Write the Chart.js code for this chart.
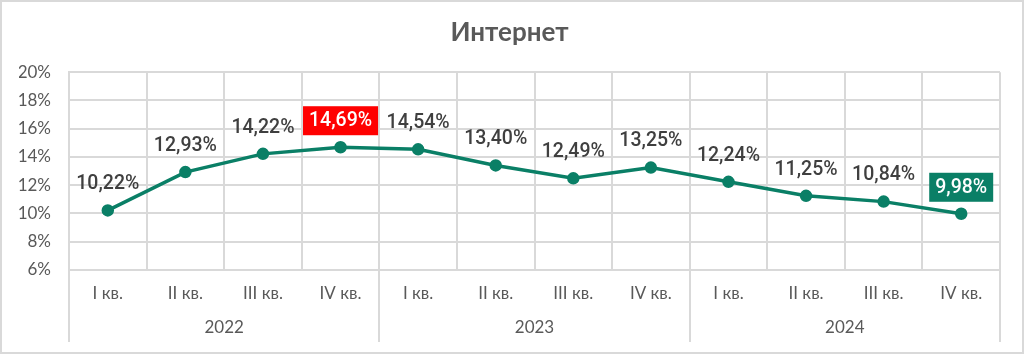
<!DOCTYPE html>
<html lang="ru">
<head>
    <meta charset="UTF-8">
    <title>Интернет</title>
    <script src="https://cdn.jsdelivr.net/npm/chart.js@4.4.1/dist/chart.umd.min.js"></script>
<style>
    html, body { margin:0; padding:0; background:#fff; }
    #board{
        width:1020px;
        height:350px;
        border:2px solid #d9d9d9;
    }
    canvas { display:block; }
</style>
</head>
<body>
    <div id="board">
        <canvas id="chart1" width="1020" height="350"></canvas>
    </div>
<script>
    // данные
    const quarters = ['I кв.','II кв.','III кв.','IV кв.','I кв.','II кв.','III кв.','IV кв.','I кв.','II кв.','III кв.','IV кв.'];
    const years = ['2022','2023','2024'];
    const values = [10.22, 12.93, 14.22, 14.69, 14.54, 13.40, 12.49, 13.25, 12.24, 11.25, 10.84, 9.98];
    const yTicks = [6, 8, 10, 12, 14, 16, 18, 20];

    const green = '#0a7f66';
    const gridColor = '#d9d9d9';
    const highlight = { 3: '#ff0000', 11: green }; // подсветка подписей

    const fmt = v => v.toFixed(2).replace('.', ',') + '%';

    // подписи значений над точками
    const valueLabels = {
        id: 'valueLabels',
        afterDatasetsDraw(chart) {
            const ctx = chart.ctx;
            const meta = chart.getDatasetMeta(0);
            ctx.save();
            ctx.font = '500 19.5px Roboto';
            ctx.textAlign = 'center';
            ctx.textBaseline = 'middle';
            meta.data.forEach((pt, i) => {
                const text = fmt(values[i]);
                const x = pt.x, y = pt.y - 27;
                if (highlight[i]) {
                    const w = ctx.measureText(text).width + 12;
                    ctx.fillStyle = highlight[i];
                    ctx.fillRect(x - w / 2, y - 14, w, 29);
                    ctx.fillStyle = '#ffffff';
                } else {
                    ctx.fillStyle = '#3f3f3f';
                }
                ctx.fillText(text, x, y + 1);
            });
            ctx.restore();
        }
    };

    // разделители годов под осью
    const yearLines = {
        id: 'yearLines',
        afterDraw(chart) {
            const ctx = chart.ctx;
            const xs = chart.scales.x;
            const x2 = chart.scales.x2;
            const step = xs.width / quarters.length;
            ctx.save();
            ctx.strokeStyle = gridColor;
            ctx.lineWidth = 2;
            for (let i = 0; i <= quarters.length; i += 4) {
                const px = Math.round(xs.left + step * i);
                ctx.beginPath();
                ctx.moveTo(px, chart.chartArea.bottom);
                ctx.lineTo(px, x2.bottom + 4);
                ctx.stroke();
            }
            ctx.restore();
        }
    };

    const ctx = document.getElementById('chart1').getContext('2d');
    new Chart(ctx, {
        type: 'line',
        data: {
            labels: quarters,
            datasets: [{
                data: values,
                borderColor: green,
                backgroundColor: green,
                borderWidth: 3.5,
                pointRadius: 4.5,
                pointHoverRadius: 4.5,
                tension: 0
            }]
        },
        options: {
            responsive: false,
            devicePixelRatio: 1,
            animation: false,
            layout: { padding: { left: 17, right: 22, top: 0, bottom: 14 } },
            plugins: {
                legend: { display: false },
                tooltip: { enabled: false },
                title: {
                    display: true,
                    text: 'Интернет',
                    color: '#595959',
                    font: { family: 'Lato', size: 26, weight: 'bold' },
                    padding: { top: 15, bottom: 24 }
                }
            },
            scales: {
                y: {
                    min: 6,
                    max: 20,
                    afterBuildTicks: s => { s.ticks = yTicks.map(v => ({ value: v })); },
                    afterFit: s => { s.width = 50; },
                    grid: { color: gridColor, lineWidth: 2, drawTicks: false },
                    border: { color: gridColor, width: 2 },
                    ticks: {
                        padding: 18,
                        color: '#595959',
                        font: { family: 'Lato', size: 17 },
                        callback: v => v + '%'
                    }
                },
                x: {
                    offset: true,
                    grid: { offset: true, color: gridColor, lineWidth: 2, drawTicks: false },
                    border: { color: gridColor, width: 2 },
                    afterFit: s => { s.height = 36; },
                    ticks: {
                        padding: 13,
                        maxRotation: 0,
                        autoSkip: false,
                        color: '#595959',
                        font: { family: 'Lato', size: 17 }
                    }
                },
                x2: {
                    type: 'category',
                    position: 'bottom',
                    labels: years,
                    offset: true,
                    grid: { offset: true, drawOnChartArea: false, drawTicks: false, display: false },
                    border: { display: false },
                    afterFit: s => { s.height = 32; },
                    ticks: {
                        padding: 11,
                        maxRotation: 0,
                        color: '#595959',
                        font: { family: 'Lato', size: 17 }
                    }
                }
            }
        },
        plugins: [valueLabels, yearLines]
    });
</script>
</body>
</html>
